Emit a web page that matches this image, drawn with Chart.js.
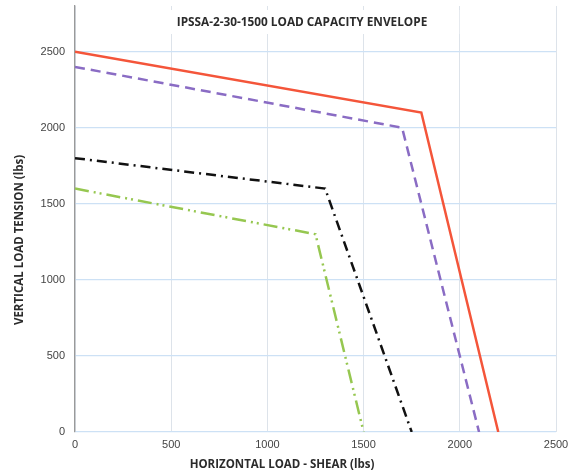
<!DOCTYPE html>
<html>
<head>
<meta charset="utf-8">
<script src="https://cdn.jsdelivr.net/npm/chart.js@4"></script>
<style>
html,body{margin:0;padding:0;background:#fff;}
#wrap{position:relative;width:581px;height:473px;}
</style>
</head>
<body>
<div id="wrap"><canvas id="c" width="581" height="473"></canvas></div>
<script>
const chartTitle = "IPSSA-2-30-1500 LOAD CAPACITY ENVELOPE";
const xAxisTitle = "HORIZONTAL LOAD - SHEAR (lbs)";
const yAxisTitle = "VERTICAL LOAD TENSION (lbs)";
const xTickValues = [0, 500, 1000, 1500, 2000, 2500];
const yTickValues = [0, 500, 1000, 1500, 2000, 2500];

const redShear = [0, 1800, 2200];
const redTension = [2500, 2100, 0];
const purpleShear = [0, 1700, 2100];
const purpleTension = [2400, 2000, 0];
const blackShear = [0, 1300, 1750];
const blackTension = [1800, 1600, 0];
const greenShear = [0, 1250, 1500];
const greenTension = [1600, 1300, 0];

const pts = (xs, ys) => xs.map((x, i) => ({x: x, y: ys[i]}));
const titleFont = '"Open Sans", Lato, sans-serif';

const textPlugin = {
  id: 'textPlugin',
  afterDatasetsDraw(chart) {
    const ctx = chart.ctx;
    ctx.save();
    ctx.textAlign = 'center';
    ctx.textBaseline = 'middle';
    // chart title with white backing box
    ctx.font = 'bold 11.8px ' + titleFont;
    const cx = 302;
    const w = ctx.measureText(chartTitle).width;
    ctx.fillStyle = '#fff';
    ctx.fillRect(cx - w / 2 - 8, 10, w + 40, 24);
    ctx.fillStyle = '#2b2b2b';
    ctx.fillText(chartTitle, cx, 23);
    // axis titles
    ctx.font = 'bold 11.5px ' + titleFont;
    ctx.fillText(xAxisTitle, 282, 465);
    ctx.translate(20, 240);
    ctx.rotate(-Math.PI / 2);
    ctx.fillText(yAxisTitle, 0, 0);
    ctx.restore();
  }
};

new Chart(document.getElementById('c'), {
  type: 'scatter',
  data: {
    datasets: [
      {data: pts(redShear, redTension), showLine: true, borderColor: '#f4553a', borderWidth: 2.5, pointRadius: 0, fill: false},
      {data: pts(purpleShear, purpleTension), showLine: true, borderColor: '#8a6cc4', borderWidth: 2.5, borderDash: [10, 6], pointRadius: 0, fill: false},
      {data: pts(blackShear, blackTension), showLine: true, borderColor: '#111111', borderWidth: 2.5, borderDash: [10, 5, 2, 5], pointRadius: 0, fill: false},
      {data: pts(greenShear, greenTension), showLine: true, borderColor: '#96c750', borderWidth: 2.5, borderDash: [14, 5, 2, 4, 2, 5], pointRadius: 0, fill: false}
    ]
  },
  options: {
    responsive: false,
    animation: false,
    devicePixelRatio: 1,
    layout: {padding: {left: 0, right: 25, top: 6, bottom: 0}},
    plugins: {legend: {display: false}, tooltip: {enabled: false}, title: {display: false}},
    scales: {
      x: {
        type: 'linear', min: 0, max: 2500,
        afterBuildTicks(s) { s.ticks = xTickValues.map(v => ({value: v})); },
        afterFit(s) { s.height = 41; s.paddingLeft = 0; s.paddingRight = 0; },
        ticks: {padding: 6, color: '#444', font: {family: '"Liberation Sans", Arial, sans-serif', size: 11}, callback: v => String(v)},
        grid: {color: '#dde3ea', lineWidth: 1, drawTicks: false},
        border: {display: false},
        title: {display: false}
      },
      y: {
        type: 'linear', min: 0, max: 2800,
        afterBuildTicks(s) { s.ticks = yTickValues.map(v => ({value: v})); },
        afterFit(s) { s.width = 75; s.paddingTop = 0; s.paddingBottom = 0; },
        ticks: {padding: 10, color: '#444', font: {family: '"Liberation Sans", Arial, sans-serif', size: 11}, callback: v => String(v)},
        grid: {color: '#cde1f5', lineWidth: 1.3, drawTicks: false},
        border: {display: true, color: '#9a9a9a', width: 1.3},
        title: {display: false}
      }
    }
  },
  plugins: [textPlugin]
});
</script>
</body>
</html>
